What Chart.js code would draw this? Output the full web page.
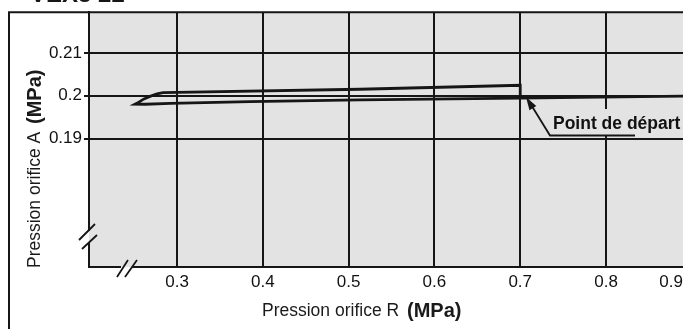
<!DOCTYPE html>
<html>
<head>
<meta charset="utf-8">
<script src="https://cdn.jsdelivr.net/npm/chart.js@4/dist/chart.umd.min.js"></script>
<style>
  html, body { margin: 0; padding: 0; background: #fff; overflow: hidden; }
  #c { display: block; }
</style>
</head>
<body>
<canvas id="c" width="683" height="329"></canvas>
<script>
// Tick values and their printed labels
const xTicks = [0.3, 0.4, 0.5, 0.6, 0.7, 0.8, 0.9];
const xTickLabels = ['0.3', '0.4', '0.5', '0.6', '0.7', '0.8', '0.9'];
const yTicks = [0.19, 0.2, 0.21];
const yTickLabels = ['0.19', '0.2', '0.21'];

// Hysteresis path: lower branch from the right down to the tip,
// then the upper branch back up to 0.7 MPa, closing at 0.7
const pressureR = [0.89, 0.793, 0.7, 0.513, 0.385, 0.292, 0.263, 0.251,
                   0.2555, 0.2615, 0.2685, 0.2767, 0.2837, 0.513, 0.7, 0.7];
const pressureA = [0.19988, 0.19965, 0.19942, 0.19902, 0.1986, 0.19819, 0.1980, 0.19802,
                   0.19850, 0.19925, 0.19985, 0.20045, 0.20074, 0.20151, 0.20244, 0.19942];

// Visible axis window (axis is broken below 0.3 and below 0.19)
const xMin = 0.1974, xMax = 0.8897;
const yMin = 0.160, yMax = 0.2195;

const FONT = '"Liberation Sans", Arial, Helvetica, sans-serif';
const INK = '#161616';
const PLOT_BG = '#e3e3e3';

const decor = {
  id: 'decor',
  beforeDraw(chart) {
    const { ctx, chartArea: a } = chart;
    ctx.save();
    ctx.fillStyle = '#fff';
    ctx.fillRect(0, 0, chart.width, chart.height);
    ctx.fillStyle = PLOT_BG;
    ctx.fillRect(a.left, a.top, a.right - a.left, a.bottom - a.top);
    ctx.restore();
  },
  afterDraw(chart) {
    const { ctx, chartArea: a, scales } = chart;
    const xs = scales.x;
    ctx.save();

    // outer frame (left and top rules)
    ctx.strokeStyle = INK;
    ctx.lineWidth = 2;
    ctx.beginPath();
    ctx.moveTo(9, chart.height);
    ctx.lineTo(9, a.top);
    ctx.lineTo(chart.width, a.top);
    ctx.stroke();

    // series heading, cut by the top edge
    ctx.fillStyle = INK;
    ctx.font = 'bold 24px ' + FONT;
    ctx.textAlign = 'left';
    ctx.textBaseline = 'alphabetic';
    ctx.fillText('VEX3 22', 30, 1.5);

    // last x label pinned inside the right edge, on the same line as the others
    const items = xs.getLabelItems(a);
    if (items.length) {
      const it = items[0];
      const lastIdx = xTicks.length - 1;
      const px = Math.min(xs.getPixelForValue(xTicks[lastIdx]), a.right);
      ctx.font = '17px ' + FONT;
      ctx.fillStyle = '#111';
      ctx.textAlign = 'right';
      ctx.textBaseline = it.options.textBaseline;
      ctx.fillText(xTickLabels[lastIdx], px, it.options.translation[1] + (it.textOffset || 0));
    }

    // axis breaks: gap in the axis line plus double slash
    ctx.fillStyle = '#fff';
    ctx.fillRect(a.left - 3, 231, 3, 12);
    ctx.fillStyle = PLOT_BG;
    ctx.fillRect(a.left, 231, 3, 12);
    ctx.fillStyle = '#fff';
    ctx.fillRect(121, a.bottom, 11, 3);
    ctx.fillStyle = PLOT_BG;
    ctx.fillRect(121, a.bottom - 3, 11, 3);
    ctx.strokeStyle = INK;
    ctx.lineWidth = 1.8;
    ctx.beginPath();
    ctx.moveTo(79, 240); ctx.lineTo(95, 224);
    ctx.moveTo(82, 249); ctx.lineTo(97, 235);
    ctx.moveTo(117, 277); ctx.lineTo(128, 260);
    ctx.moveTo(125, 277); ctx.lineTo(137, 260);
    ctx.stroke();

    // axis titles, unit in bold
    ctx.fillStyle = '#1a1a1a';
    ctx.textBaseline = 'middle';
    ctx.textAlign = 'left';
    const regFont = '17.5px ' + FONT, boldFont = 'bold 20px ' + FONT;
    const xt = 'Pression orifice R ';
    ctx.font = regFont;
    ctx.fillText(xt, 262, 311);
    const wx = ctx.measureText(xt).width;
    ctx.font = boldFont;
    ctx.fillText('(MPa)', 262 + wx + 3, 311);

    ctx.save();
    ctx.translate(35, 268);
    ctx.rotate(-Math.PI / 2);
    const yt = 'Pression orifice A ';
    ctx.font = regFont;
    ctx.fillText(yt, 0, 0);
    const wy = ctx.measureText(yt).width;
    ctx.font = boldFont;
    ctx.fillText('(MPa)', wy + 3, 0);
    ctx.restore();

    // "Point de départ" callout
    ctx.fillStyle = PLOT_BG;
    ctx.fillRect(545, 109, a.right - 545, 27);
    ctx.fillStyle = '#111';
    ctx.font = 'bold 17.5px ' + FONT;
    ctx.textAlign = 'left';
    ctx.textBaseline = 'alphabetic';
    ctx.fillText('Point de départ', 553, 129);
    ctx.strokeStyle = INK;
    ctx.lineWidth = 1.8;
    ctx.beginPath();
    ctx.moveTo(635, 135.5);
    ctx.lineTo(550, 135.5);
    ctx.lineTo(530, 103);
    ctx.stroke();
    // arrow head
    const tipX = 526, tipY = 97;
    const ang = Math.atan2(135.5 - tipY, 550 - tipX);
    const L = 13, W = 4;
    ctx.fillStyle = INK;
    ctx.beginPath();
    ctx.moveTo(tipX, tipY);
    ctx.lineTo(tipX + L * Math.cos(ang) - W * Math.sin(ang), tipY + L * Math.sin(ang) + W * Math.cos(ang));
    ctx.lineTo(tipX + L * Math.cos(ang) + W * Math.sin(ang), tipY + L * Math.sin(ang) - W * Math.cos(ang));
    ctx.closePath();
    ctx.fill();

    ctx.restore();
  }
};

const points = pressureR.map((x, i) => ({ x: x, y: pressureA[i] }));

new Chart(document.getElementById('c'), {
  type: 'scatter',
  data: {
    datasets: [{
      data: points,
      showLine: true,
      borderColor: INK,
      borderWidth: 2.8,
      pointRadius: 0,
      tension: 0,
      fill: false,
      clip: 4
    }]
  },
  options: {
    responsive: false,
    animation: false,
    events: [],
    layout: { padding: { top: 11, right: 0, bottom: 0, left: 0 } },
    plugins: {
      legend: { display: false },
      tooltip: { enabled: false },
      title: { display: false }
    },
    scales: {
      x: {
        type: 'linear',
        min: xMin,
        max: xMax,
        afterBuildTicks: s => { s.ticks = xTicks.filter(v => v <= s.max).map(v => ({ value: v })); },
        afterFit: s => { s.height = 62; },
        ticks: {
          callback: (v, i) => xTickLabels[i],
          font: { family: FONT, size: 17 },
          color: '#111',
          padding: 5,
          maxRotation: 0,
          autoSkip: false
        },
        grid: { color: INK, lineWidth: 2, drawTicks: false },
        border: { color: INK, width: 2 }
      },
      y: {
        type: 'linear',
        min: yMin,
        max: yMax,
        afterBuildTicks: s => { s.ticks = yTicks.map(v => ({ value: v })); },
        afterFit: s => { s.width = 89; },
        ticks: {
          callback: (v, i) => yTickLabels[i],
          font: { family: FONT, size: 17 },
          color: '#111',
          padding: 2
        },
        grid: { color: INK, lineWidth: 2, drawTicks: true, tickLength: 5 },
        border: { color: INK, width: 2 }
      }
    }
  },
  plugins: [decor]
});
</script>
</body>
</html>
